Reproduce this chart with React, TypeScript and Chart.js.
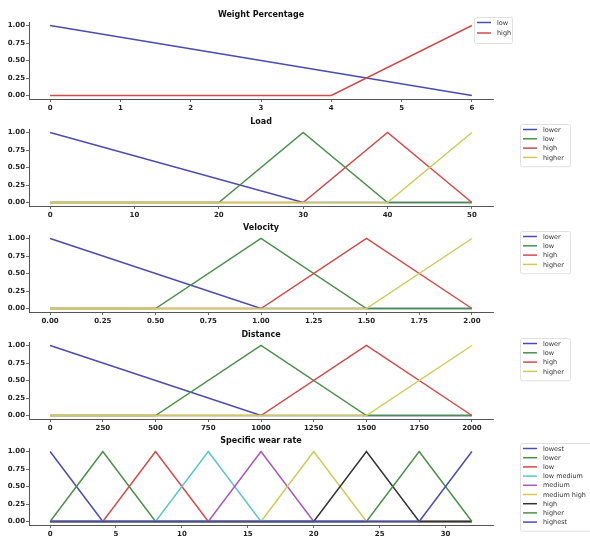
import React, { useEffect, useRef } from "react";
import { Chart, registerables } from "chart.js";

Chart.register(...registerables);

// ---- colours (matplotlib b, g, r, c, m, y, k as they appear in the picture)
const BLUE = "#4b4bb0";
const GREEN = "#4a904a";
const RED = "#d24a4a";
const CYAN = "#5ac6c6";
const MAGENTA = "#a856b8";
const YELLOW = "#cccc58";
const BLACK = "#333333";

const yTicks = [0, 0.25, 0.5, 0.75, 1];

// ---- Weight Percentage
const weightTicks = [0, 1, 2, 3, 4, 5, 6];
const weightLowX = [0, 6];
const weightLowY = [1, 0];
const weightHighX = [0, 4, 6];
const weightHighY = [0, 0, 1];

// ---- Load
const loadTicks = [0, 10, 20, 30, 40, 50];
const loadLowerX = [0, 30, 50];
const loadLowerY = [1, 0, 0];
const loadLowX = [0, 20, 30, 40, 50];
const loadLowY = [0, 0, 1, 0, 0];
const loadHighX = [0, 30, 40, 50];
const loadHighY = [0, 0, 1, 0];
const loadHigherX = [0, 40, 50];
const loadHigherY = [0, 0, 1];

// ---- Velocity
const velTicks = [0, 0.25, 0.5, 0.75, 1, 1.25, 1.5, 1.75, 2];
const velLowerX = [0, 1, 2];
const velLowerY = [1, 0, 0];
const velLowX = [0, 0.5, 1, 1.5, 2];
const velLowY = [0, 0, 1, 0, 0];
const velHighX = [0, 1, 1.5, 2];
const velHighY = [0, 0, 1, 0];
const velHigherX = [0, 1.5, 2];
const velHigherY = [0, 0, 1];

// ---- Distance
const distTicks = [0, 250, 500, 750, 1000, 1250, 1500, 1750, 2000];
const distLowerX = [0, 1000, 2000];
const distLowerY = [1, 0, 0];
const distLowX = [0, 500, 1000, 1500, 2000];
const distLowY = [0, 0, 1, 0, 0];
const distHighX = [0, 1000, 1500, 2000];
const distHighY = [0, 0, 1, 0];
const distHigherX = [0, 1500, 2000];
const distHigherY = [0, 0, 1];

// ---- Specific wear rate
const wearTicks = [0, 5, 10, 15, 20, 25, 30];
const wearLowestX = [0, 4, 32];
const wearLowestY = [1, 0, 0];
const wearLowerX = [0, 4, 8, 32];
const wearLowerY = [0, 1, 0, 0];
const wearLowX = [0, 4, 8, 12, 32];
const wearLowY = [0, 0, 1, 0, 0];
const wearLowMedX = [0, 8, 12, 16, 32];
const wearLowMedY = [0, 0, 1, 0, 0];
const wearMediumX = [0, 12, 16, 20, 32];
const wearMediumY = [0, 0, 1, 0, 0];
const wearMedHighX = [0, 16, 20, 24, 32];
const wearMedHighY = [0, 0, 1, 0, 0];
const wearHighX = [0, 20, 24, 28, 32];
const wearHighY = [0, 0, 1, 0, 0];
const wearHigherX = [0, 24, 28, 32];
const wearHigherY = [0, 0, 1, 0];
const wearHighestX = [0, 28, 32];
const wearHighestY = [0, 0, 1];

type Series = { label: string; xs: number[]; ys: number[]; color: string };
type Panel = {
  title: string;
  top: number;
  lo: number;
  hi: number;
  ticks: number[];
  dec: number;
  series: Series[];
  legend: { left: number; top: number; width: number; row: number };
};

const panels: Panel[] = [
  {
    title: "Weight Percentage",
    top: 0,
    lo: 0,
    hi: 6,
    ticks: weightTicks,
    dec: 0,
    series: [
      { label: "low", xs: weightLowX, ys: weightLowY, color: BLUE },
      { label: "high", xs: weightHighX, ys: weightHighY, color: RED },
    ],
    legend: { left: 474, top: 17, width: 38, row: 10.5 },
  },
  {
    title: "Load",
    top: 107,
    lo: 0,
    hi: 50,
    ticks: loadTicks,
    dec: 0,
    series: [
      { label: "lower", xs: loadLowerX, ys: loadLowerY, color: BLUE },
      { label: "low", xs: loadLowX, ys: loadLowY, color: GREEN },
      { label: "high", xs: loadHighX, ys: loadHighY, color: RED },
      { label: "higher", xs: loadHigherX, ys: loadHigherY, color: YELLOW },
    ],
    legend: { left: 520, top: 17, width: 50, row: 9.3 },
  },
  {
    title: "Velocity",
    top: 213,
    lo: 0,
    hi: 2,
    ticks: velTicks,
    dec: 2,
    series: [
      { label: "lower", xs: velLowerX, ys: velLowerY, color: BLUE },
      { label: "low", xs: velLowX, ys: velLowY, color: GREEN },
      { label: "high", xs: velHighX, ys: velHighY, color: RED },
      { label: "higher", xs: velHigherX, ys: velHigherY, color: YELLOW },
    ],
    legend: { left: 520, top: 18, width: 50, row: 9.3 },
  },
  {
    title: "Distance",
    top: 320,
    lo: 0,
    hi: 2000,
    ticks: distTicks,
    dec: 0,
    series: [
      { label: "lower", xs: distLowerX, ys: distLowerY, color: BLUE },
      { label: "low", xs: distLowX, ys: distLowY, color: GREEN },
      { label: "high", xs: distHighX, ys: distHighY, color: RED },
      { label: "higher", xs: distHigherX, ys: distHigherY, color: YELLOW },
    ],
    legend: { left: 520, top: 18, width: 50, row: 9.3 },
  },
  {
    title: "Specific wear rate",
    top: 426,
    lo: 0,
    hi: 32,
    ticks: wearTicks,
    dec: 0,
    series: [
      { label: "lowest", xs: wearLowestX, ys: wearLowestY, color: BLUE },
      { label: "lower", xs: wearLowerX, ys: wearLowerY, color: GREEN },
      { label: "low", xs: wearLowX, ys: wearLowY, color: RED },
      { label: "low medium", xs: wearLowMedX, ys: wearLowMedY, color: CYAN },
      { label: "medium", xs: wearMediumX, ys: wearMediumY, color: MAGENTA },
      { label: "medium high", xs: wearMedHighX, ys: wearMedHighY, color: YELLOW },
      { label: "high", xs: wearHighX, ys: wearHighY, color: BLACK },
      { label: "higher", xs: wearHigherX, ys: wearHigherY, color: GREEN },
      { label: "highest", xs: wearHighestX, ys: wearHighestY, color: BLUE },
    ],
    legend: { left: 520, top: 17, width: 80, row: 9.2 },
  },
];

const H = 112;
const W = 590;
const FONT = "'DejaVu Sans', sans-serif";

function makeDecor(p: Panel) {
  return {
    id: "decor",
    afterDraw(chart: any) {
      const ctx = chart.ctx as CanvasRenderingContext2D;
      const a = chart.chartArea;
      ctx.save();
      // title
      ctx.fillStyle = "#111";
      ctx.font = `bold 8px ${FONT}`;
      ctx.textAlign = "center";
      ctx.textBaseline = "middle";
      ctx.fillText(p.title, (a.left + a.right) / 2, a.top - 7.5);
      // legend
      const L = p.legend;
      const n = p.series.length;
      const h = n * L.row + 5;
      ctx.globalAlpha = 0.85;
      ctx.fillStyle = "#ffffff";
      ctx.beginPath();
      (ctx as any).roundRect(L.left + 0.5, L.top + 0.5, L.width, h, 2);
      ctx.fill();
      ctx.globalAlpha = 1;
      ctx.strokeStyle = "#d8d8d8";
      ctx.lineWidth = 0.8;
      ctx.stroke();
      ctx.font = `6.5px ${FONT}`;
      ctx.textAlign = "left";
      p.series.forEach((s, i) => {
        const y = L.top + 5.5 + i * L.row;
        ctx.strokeStyle = s.color;
        ctx.lineWidth = 1.5;
        ctx.beginPath();
        ctx.moveTo(L.left + 3, y);
        ctx.lineTo(L.left + 17, y);
        ctx.stroke();
        ctx.fillStyle = "#333";
        ctx.fillText(s.label, L.left + 23, y + 0.5);
      });
      ctx.restore();
    },
  };
}

function PanelChart({ p }: { p: Panel }) {
  const ref = useRef<HTMLCanvasElement | null>(null);
  useEffect(() => {
    if (!ref.current) return;
    const range = p.hi - p.lo;
    const n = p.series.length;
    const tickFont = { family: FONT, size: 7, weight: "bold" as const };
    const chart = new Chart(ref.current, {
      type: "scatter",
      data: {
        datasets: p.series.map((s, i) => ({
          label: s.label,
          data: s.xs.map((x, j) => ({ x, y: s.ys[j] })),
          showLine: true,
          borderColor: s.color,
          backgroundColor: s.color,
          borderWidth: 1.5,
          pointRadius: 0,
          pointHoverRadius: 0,
          tension: 0,
          order: n - i,
        })),
      },
      options: {
        animation: false,
        responsive: false,
        maintainAspectRatio: false,
        events: [],
        layout: { padding: { left: 0, right: W - 493, top: 22, bottom: 0 } },
        plugins: {
          legend: { display: false },
          title: { display: false },
          tooltip: { enabled: false },
        },
        scales: {
          x: {
            type: "linear",
            min: p.lo - 0.05 * range,
            max: p.hi + 0.05 * range,
            afterBuildTicks: (s: any) => {
              s.ticks = p.ticks.map((v) => ({ value: v }));
            },
            afterFit: (s: any) => {
              s.height = 13;
            },
            ticks: {
              callback: (v: any) => Number(v).toFixed(p.dec),
              font: tickFont,
              color: "#222",
              padding: 2,
              maxRotation: 0,
              autoSkip: false,
            },
            grid: {
              display: true,
              drawOnChartArea: false,
              drawTicks: true,
              tickLength: 3,
              color: "#444",
              lineWidth: 0.8,
            },
            border: { display: true, color: "#555", width: 1 },
          },
          y: {
            type: "linear",
            min: -0.05,
            max: 1.05,
            afterBuildTicks: (s: any) => {
              s.ticks = yTicks.map((v) => ({ value: v }));
            },
            afterFit: (s: any) => {
              s.width = 29;
            },
            ticks: {
              callback: (v: any) => Number(v).toFixed(2),
              font: tickFont,
              color: "#222",
              padding: 1,
              autoSkip: false,
            },
            grid: {
              display: true,
              drawOnChartArea: false,
              drawTicks: true,
              tickLength: 3,
              color: "#444",
              lineWidth: 0.8,
            },
            border: { display: true, color: "#555", width: 1 },
          },
        },
      } as any,
      plugins: [makeDecor(p)],
    });
    return () => chart.destroy();
  }, [p]);
  return (
    <canvas
      ref={ref}
      width={W}
      height={H}
      style={{ position: "absolute", left: 0, top: p.top, width: W, height: H }}
    />
  );
}

export default function App() {
  return (
    <div
      style={{
        position: "absolute",
        left: 0,
        top: 0,
        width: W,
        height: 538,
        background: "#ffffff",
        overflow: "hidden",
      }}
    >
      {panels.map((p) => (
        <PanelChart key={p.title} p={p} />
      ))}
    </div>
  );
}
